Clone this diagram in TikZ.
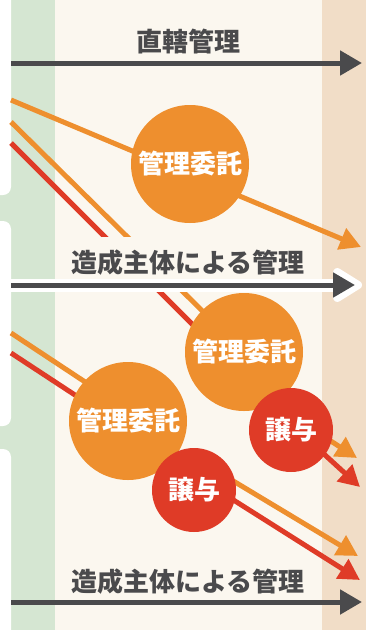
\documentclass[tikz,border=0pt]{standalone}
\usepackage{fontspec}
\usepackage{tikz}
\usetikzlibrary{arrows.meta,calc,backgrounds}

\newfontfamily\jpfont{Noto Sans CJK JP}

\definecolor{cream}{HTML}{FBF7EF}
\definecolor{sage}{HTML}{D5E6D2}
\definecolor{peach}{HTML}{F1DDC7}
\definecolor{ink}{HTML}{4A4A4C}
\definecolor{orng}{HTML}{EE8F2E}
\definecolor{rd}{HTML}{DF3B27}

\begin{document}
\begin{tikzpicture}[x=1pt,y=-1pt,
	consign/.style={shape=circle, fill=orng, text=white, minimum size=118pt, inner sep=0pt, font=\jpfont\bfseries\fontsize{26}{26}\selectfont},
	transfer/.style={shape=circle, fill=rd, text=white, minimum size=84pt, inner sep=0pt, font=\jpfont\bfseries\fontsize{26}{26}\selectfont},
	mode/.style={fill=cream, text=ink, inner sep=0pt, minimum height=52pt, minimum width=250pt, font=\jpfont\bfseries\fontsize{26}{26}\selectfont},
	flow/.style={line width=5pt, line join=round, -{Triangle[length=21pt,width=22pt]}},
	track/.style={draw=ink, line width=5pt, -{Triangle[length=22pt,width=24pt]}}
	]
		\useasboundingbox (0,0) rectangle (366,630);
		
		\coordinate (sA) at (11,100);
		\coordinate (sB) at (11,122);
		\coordinate (sC) at (11,143);
		\coordinate (sD) at (11,333);
		\coordinate (sE) at (11,353);
		\coordinate (tA) at (361,247);
		\coordinate (tB) at (357,458);
		\coordinate (tC) at (360,487);
		\coordinate (tD) at (358,556);
		\coordinate (tE) at (360,580);
		\coordinate (g1) at (11,63);
		\coordinate (g2) at (11,285);
		\coordinate (g3) at (11,602);
		\coordinate (h1) at (362,63);
		\coordinate (h2) at (355,285);
		\coordinate (h3) at (362,602);
		
		\node[consign] (K1) at (190,164) {管理委託};
		\node[consign] (K2) at (244,352) {管理委託};
		\node[consign] (K3) at (128,421) {管理委託};
		\node[transfer] (J1) at (291,430) {譲与};
		\node[transfer] (J2) at (194,490) {譲与};
		
		\begin{scope}[on background layer]
		\fill[cream] (0,0) rectangle (366,630);
		\fill[sage] (0,0) rectangle (55,630);
		\fill[peach] (322,0) rectangle (366,630);
		\fill[white, rounded corners=8pt] (-20,-20) rectangle (11,195);
		\fill[white, rounded corners=8pt] (-20,221) rectangle (11,426);
		\fill[white, rounded corners=8pt] (-20,449) rectangle (11,650);
		
		\draw[flow, orng] (sA) -- (tA);
		\draw[flow, orng] (sB) -- (K2.center) -- ($(J1.center)+(9,-9)$) -- (tB);
		\draw[flow, rd] (sC) -- ($(K2.center)+(-4,20)$) -- ($(J1.center)+(-1,-7)$) -- (tC);
		\draw[flow, orng] (sD) -- ($(K3.center)+(-8,-16)$) -- ($(J2.center)+(-22,-33)$) -- ($(J2.center)+(16,-23)$) -- (tD);
		\draw[flow, rd] (sE) -- ($(K3.center)+(-18,-3)$) -- ($(J2.center)+(-32,-23)$) -- ($(J2.center)+(11,-8)$) -- (tE);
		\end{scope}
		
		\node[mode] (M1) at (188,42) {直轄管理};
		\node[mode] (M2) at (188,263) {造成主体による管理};
		\node[mode, fill=none] (M3) at (188,582) {造成主体による管理};
		
		\draw[track] (g1) -- (h1);
		\draw[white, line width=13pt, line join=round, -{Triangle[length=33pt,width=38pt,round]}] (g2) -- ($(h2)+(7,0)$);
		\draw[track] (g2) -- (h2);
		\draw[track] (g3) -- (h3);
		
\end{tikzpicture}
\end{document}
